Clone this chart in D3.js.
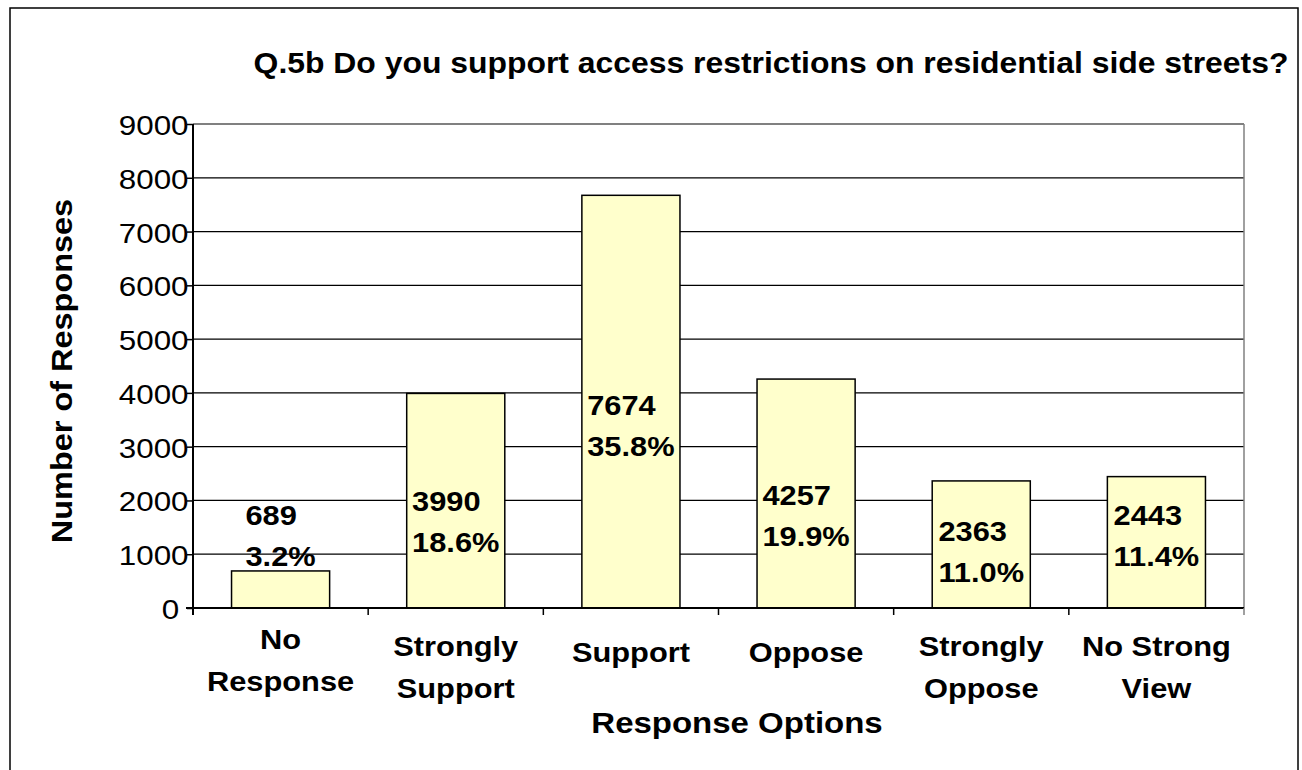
<!DOCTYPE html>
<html>
<head>
<meta charset="utf-8">
<script src="https://cdn.jsdelivr.net/npm/d3@7"></script>
<style>
  html, body { margin: 0; padding: 0; background: #fff; }
  svg { display: block; }
  text { font-family: "Liberation Sans", Arial, sans-serif; fill: #000; }
</style>
</head>
<body>
<svg id="chart" width="1302" height="770"></svg>
<script>
// Survey responses to question 5b
const categories = [
  ["No", "Response"],
  ["Strongly", "Support"],
  ["Support"],
  ["Oppose"],
  ["Strongly", "Oppose"],
  ["No Strong", "View"]
];
const counts = [689, 3990, 7674, 4257, 2363, 2443];
// height (in responses) at which each value label's first line sits
const labelLevels = [1540, 1800, 3590, 1915, 1245, 1545];
const yTicks = [0, 1000, 2000, 3000, 4000, 5000, 6000, 7000, 8000, 9000];

const titleText = "Q.5b Do you support access restrictions on residential side streets?";
const xTitle = "Response Options";
const yTitle = "Number of Responses";

const svg = d3.select("#chart");
const plot = { left: 193, right: 1244, top: 124, bottom: 608 };
const SX = 1.1; // horizontal text stretch

const total = d3.sum(counts);
const pct = d3.format(".1%");

const x = d3.scaleBand()
  .domain(d3.range(categories.length))
  .range([plot.left, plot.right])
  .padding(0);
const barW = x.bandwidth() * 0.56;

const y = d3.scaleLinear().domain([0, 9000]).range([plot.bottom, plot.top]);

// outer frame
svg.append("rect")
  .attr("x", 10).attr("y", 8)
  .attr("width", 1288).attr("height", 780)
  .attr("fill", "#fff").attr("stroke", "#000").attr("stroke-width", 1.5);

// title
svg.append("text")
  .attr("transform", `translate(771,73) scale(${SX},1)`)
  .attr("text-anchor", "middle")
  .style("font-size", "29px").style("font-weight", "bold")
  .text(titleText);

// horizontal gridlines
svg.append("g").selectAll("line")
  .data(yTicks.filter(t => t > 0))
  .join("line")
  .attr("x1", plot.left).attr("x2", plot.right)
  .attr("y1", d => y(d)).attr("y2", d => y(d))
  .attr("stroke", d => d === 9000 ? "#808080" : "#000")
  .attr("stroke-width", d => d === 9000 ? 2 : 1.3);

// right edge of plot area
svg.append("line")
  .attr("x1", plot.right).attr("x2", plot.right)
  .attr("y1", plot.top).attr("y2", plot.bottom)
  .attr("stroke", "#808080").attr("stroke-width", 1.5);

// bars
svg.append("g").selectAll("rect")
  .data(counts)
  .join("rect")
  .attr("x", (d, i) => x(i) + (x.bandwidth() - barW) / 2)
  .attr("width", barW)
  .attr("y", d => y(d))
  .attr("height", d => y(0) - y(d))
  .attr("fill", "#FFFFCC")
  .attr("stroke", "#000").attr("stroke-width", 1.5);

// y axis
const yAxis = d3.axisLeft(y).tickValues(yTicks).tickSize(6).tickFormat(d3.format("d"));
const gy = svg.append("g").attr("transform", `translate(${plot.left},0)`).call(yAxis);
gy.select(".domain").remove();
gy.selectAll(".tick line").attr("stroke", "#000").attr("stroke-width", 1.5);
gy.selectAll(".tick text")
  .attr("x", null).attr("dy", null)
  .style("font-size", "28.5px")
  .style("font-family", '"Liberation Sans", Arial, sans-serif')
  .attr("text-anchor", "end")
  .each(function () {
    const w = this.getComputedTextLength() * SX;
    const dx = -17 + 0.18 * w;
    d3.select(this).attr("transform", `translate(${dx},10.5) scale(${SX},1)`);
  });
svg.append("line")
  .attr("x1", plot.left).attr("x2", plot.left)
  .attr("y1", plot.top).attr("y2", plot.bottom + 7)
  .attr("stroke", "#000").attr("stroke-width", 2);

// x axis line and category separators
svg.append("line")
  .attr("x1", plot.left - 7).attr("x2", plot.right)
  .attr("y1", plot.bottom).attr("y2", plot.bottom)
  .attr("stroke", "#000").attr("stroke-width", 2);
svg.append("g").selectAll("line")
  .data(d3.range(categories.length + 1))
  .join("line")
  .attr("x1", i => plot.left + i * x.step()).attr("x2", i => plot.left + i * x.step())
  .attr("y1", plot.bottom).attr("y2", plot.bottom + 7)
  .attr("stroke", i => i === categories.length ? "#808080" : "#000")
  .attr("stroke-width", 1.5);

// category labels
const catG = svg.append("g");
categories.forEach((lines, i) => {
  const cx = x(i) + x.bandwidth() / 2;
  const firstY = lines.length === 1 ? 662 : (i === 0 ? 649 : 656);
  lines.forEach((ln, j) => {
    catG.append("text")
      .attr("transform", `translate(${cx},${firstY + j * 42}) scale(${SX},1)`)
      .attr("text-anchor", "middle")
      .style("font-size", "28px").style("font-weight", "bold")
      .text(ln);
  });
});

// axis titles
svg.append("text")
  .attr("transform", `translate(737,733) scale(${SX},1)`)
  .attr("text-anchor", "middle")
  .style("font-size", "30px").style("font-weight", "bold")
  .text(xTitle);
svg.append("text")
  .attr("transform", `translate(72,${(plot.top + plot.bottom) / 2 + 5}) rotate(-90) scale(${SX},1)`)
  .attr("text-anchor", "middle")
  .style("font-size", "29.5px").style("font-weight", "bold")
  .text(yTitle);

// value labels: count and share, left-aligned block centred on the bar
const lblG = svg.append("g");
counts.forEach((c, i) => {
  const cx = x(i) + x.bandwidth() / 2;
  const baseY = y(labelLevels[i]);
  const lines = [String(c), pct(c / total)];
  const nodes = lines.map((ln, j) => lblG.append("text")
    .attr("text-anchor", "start")
    .style("font-size", "28px").style("font-weight", "bold")
    .text(ln));
  const maxW = d3.max(nodes, n => n.node().getComputedTextLength() * SX);
  nodes.forEach((n, j) => {
    n.attr("transform", `translate(${cx - maxW / 2},${baseY + j * 41}) scale(${SX},1)`);
  });
});
</script>
</body>
</html>
